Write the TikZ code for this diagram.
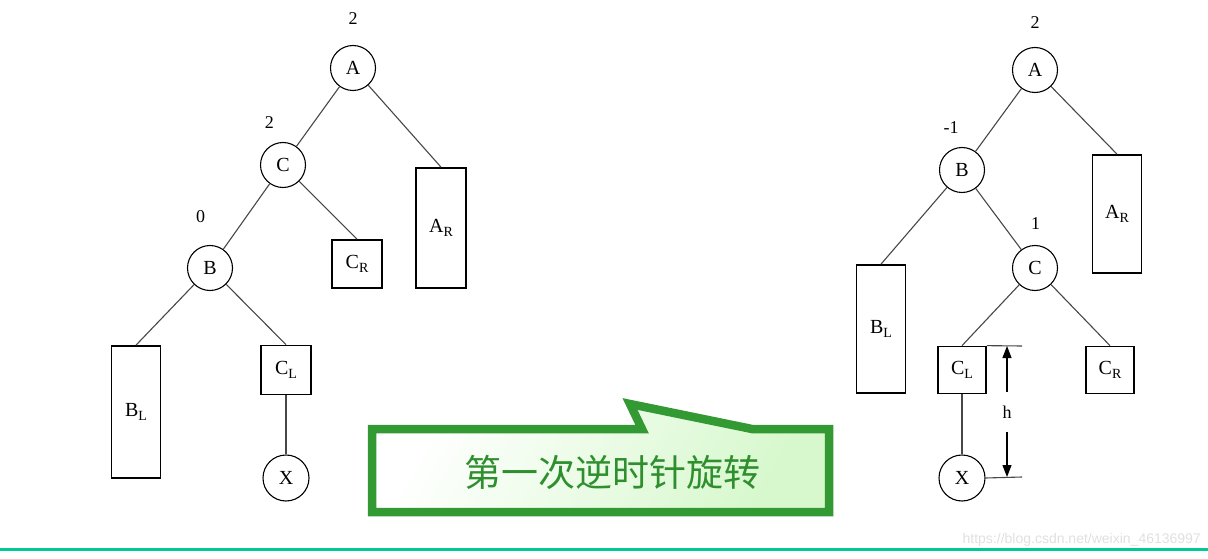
\documentclass[tikz,border=0pt]{standalone}
\usepackage{fontspec}
\setmainfont{Liberation Serif}
\newfontfamily\cjk{Noto Sans CJK SC}
\newfontfamily\webfont{Liberation Sans}
\usetikzlibrary{arrows.meta,positioning,calc}
\definecolor{Frame}{HTML}{339933}
\definecolor{Ink}{HTML}{2F8F2F}
\definecolor{Mint}{HTML}{D6F8CC}
\definecolor{Rule}{HTML}{00C896}
\newcommand{\lowtag}[2]{#1\raisebox{-0.22em}{\fontsize{14}{14}\selectfont #2}}

\begin{document}
\begin{tikzpicture}[x=1pt,y=-1pt,>=Stealth,
    vtx/.style={draw,circle,line width=1.1pt,minimum size=45pt,inner sep=0pt,font=\fontsize{20}{20}\selectfont},
    blk/.style={draw,rectangle,line width=1.7pt,inner sep=0pt,font=\fontsize{20}{20}\selectfont},
    bal/.style={font=\fontsize{18}{18}\selectfont,inner sep=0pt},
    link/.style={line width=1.1pt,draw=black!72},
    dimarrow/.style={line width=1.1pt,-{Triangle[length=12pt,width=9pt]}},
    callout/.style={draw=Frame,line width=8.5pt,line join=miter,left color=white,right color=Mint,shading angle=60},
    note/.style={font=\cjk\fontsize{37}{37}\selectfont,text=Ink}]
  \useasboundingbox (0,0) rectangle (1208,559);

  % before rotation
  \node[vtx,label={[bal,label distance=20pt]90:2}] (lA) at (353,68) {A};
  \node[vtx,label={[bal,label distance=14pt]104:2}] (lC) at (283,165) {C};
  \node[vtx,label={[bal,label distance=22pt]96:0}] (lB) at (210,268) {B};
  \node[blk,minimum width=50pt,minimum height=120pt] (lAR) at (441,228) {\lowtag{A}{R}};
  \node[blk,minimum width=50pt,minimum height=48pt] (lCR) at (357,264) {\lowtag{C}{R}};
  \node[blk,minimum width=50pt,minimum height=49pt] (lCL) at (286,370) {\lowtag{C}{L}};
  \node[blk,minimum width=49pt,minimum height=132pt] (lBL) at (136,412) {\lowtag{B}{L}};
  \node[vtx,minimum size=46pt] (lX) at (286,478) {X};
  \foreach \u/\v in {lA/lC,lC/lB,lA/lAR.north,lC/lCR.north,lB/lBL.north,lB/lCL.north,lCL/lX}
    \draw[link] (\u)--(\v);

  % after rotation
  \node[vtx,label={[bal,label distance=18pt]90:2}] (rA) at (1035,70) {A};
  \node[vtx,label={[bal,label distance=13pt]95:-1}] (rB) at (962,170) {B};
  \node[vtx,label={[bal,label distance=15pt]89:1}] (rC) at (1035,268) {C};
  \node[blk,minimum width=49pt,minimum height=118pt] (rAR) at (1117,214) {\lowtag{A}{R}};
  \node[blk,minimum width=49pt,minimum height=128pt] (rBL) at (881,329) {\lowtag{B}{L}};
  \node[blk,minimum width=48pt,minimum height=47pt] (rCL) at (962,370) {\lowtag{C}{L}};
  \node[blk,minimum width=48pt,minimum height=47pt] (rCR) at (1110,370) {\lowtag{C}{R}};
  \node[vtx,minimum size=46pt] (rX) at (962,478) {X};
  \foreach \u/\v in {rA/rB,rB/rC,rA/rAR.north,rB/rBL.north,rC/rCL.north,rC/rCR.north,rCL/rX}
    \draw[link] (\u)--(\v);

  % height h
  \coordinate (hTop) at (1022,346);
  \coordinate (hBot) at (1022,477);
  \node[bal] (h) at (1007,412) {h};
  \draw[link] (rCL.north east)--(hTop);
  \draw[link] (rX.east)--(hBot);
  \draw[dimarrow,shorten <=14pt] (h)--(h |- hTop);
  \draw[dimarrow,shorten <=14pt] (h)--(h |- hBot);

  % callout
  \path[callout] (372,429)--(642,429)--(630,404)--(752,429)--(829,429)
    --(829,512)--(372,512)--cycle;
  \node[note] (turn) at (612,472) {第一次逆时针旋转};

  \draw[Rule,line width=3pt] (0,549)--(1208,549);
  \node[anchor=east,text=black!12,font=\webfont\fontsize{14}{14}\selectfont,inner sep=0pt] (src) at (1201,540) {https://blog.csdn.net/weixin\_46136997};
\end{tikzpicture}
\end{document}
